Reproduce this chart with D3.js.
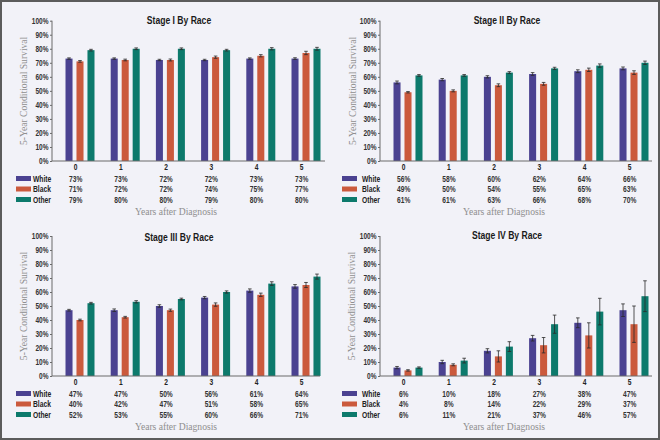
<!DOCTYPE html>
<html>
<head>
<meta charset="utf-8">
<script src="https://cdn.jsdelivr.net/npm/d3@7"></script>
<style>
  html, body { margin: 0; padding: 0; background: #f2f2f8; }
  svg { display: block; }
  .cond { font-family: "Liberation Sans", Arial, sans-serif; font-weight: bold; }
  .serif { font-family: "Liberation Serif", "DejaVu Serif", serif; }
</style>
</head>
<body>
<svg id="chart" width="660" height="440"></svg>
<script>
// ---- Data ----
const years = [0, 1, 2, 3, 4, 5];
const races = ["White", "Black", "Other"];
const yTicks = [0, 10, 20, 30, 40, 50, 60, 70, 80, 90, 100];
const stageTitles = ["Stage I By Race", "Stage II By Race", "Stage III By Race", "Stage IV By Race"];

const stageIWhite = [73, 73, 72, 72, 73, 73];
const stageIBlack = [71, 72, 72, 74, 75, 77];
const stageIOther = [79, 80, 80, 79, 80, 80];
const stageIWhiteErr = [0.5, 0.5, 0.5, 0.5, 0.5, 0.6];
const stageIBlackErr = [0.6, 0.6, 0.7, 0.8, 0.8, 1.2];
const stageIOtherErr = [0.6, 0.6, 0.6, 0.6, 0.8, 1.0];

const stageIIWhite = [56, 58, 60, 62, 64, 66];
const stageIIBlack = [49, 50, 54, 55, 65, 63];
const stageIIOther = [61, 61, 63, 66, 68, 70];
const stageIIWhiteErr = [1.0, 0.8, 0.8, 1.0, 1.0, 1.0];
const stageIIBlackErr = [0.5, 0.7, 1.0, 1.0, 1.2, 1.3];
const stageIIOtherErr = [0.6, 0.6, 0.7, 0.8, 1.2, 1.2];

const stageIIIWhite = [47, 47, 50, 56, 61, 64];
const stageIIIBlack = [40, 42, 47, 51, 58, 65];
const stageIIIOther = [52, 53, 55, 60, 66, 71];
const stageIIIWhiteErr = [0.6, 0.9, 0.9, 0.8, 1.2, 1.3];
const stageIIIBlackErr = [0.6, 0.6, 0.8, 1.2, 1.2, 1.8];
const stageIIIOtherErr = [0.6, 0.8, 0.6, 0.8, 1.3, 1.8];

const stageIVWhite = [6, 10, 18, 27, 38, 47];
const stageIVBlack = [4, 8, 14, 22, 29, 37];
const stageIVOther = [6, 11, 21, 37, 46, 57];
const stageIVWhiteErr = [0.8, 1.2, 1.5, 2.0, 3.5, 4.5];
const stageIVBlackErr = [0.5, 0.7, 4.0, 5.5, 9.0, 13.0];
const stageIVOtherErr = [0.5, 1.7, 3.5, 6.5, 9.5, 11.0];

const colors = { White: "#4b4291", Black: "#cb5a3d", Other: "#0d7a6c" };

// ---- Panels ----
const panelData = [
  { values: [stageIWhite, stageIBlack, stageIOther], errs: [stageIWhiteErr, stageIBlackErr, stageIOtherErr] },
  { values: [stageIIWhite, stageIIBlack, stageIIOther], errs: [stageIIWhiteErr, stageIIBlackErr, stageIIOtherErr] },
  { values: [stageIIIWhite, stageIIIBlack, stageIIIOther], errs: [stageIIIWhiteErr, stageIIIBlackErr, stageIIIOtherErr] },
  { values: [stageIVWhite, stageIVBlack, stageIVOther], errs: [stageIVWhiteErr, stageIVBlackErr, stageIVOtherErr] }
];

const layouts = [
  { ox: 0,   oy: 0,   axisX: 52, xEnd: 325, top: 20.7, bottom: 161, c0: 80, c5: 306, titleX: 179, titleY: 24, swX: 16, lblX: 33, yLabX: 27 },
  { ox: 330, oy: 0,   axisX: 50, xEnd: 322, top: 20.7, bottom: 161, c0: 78, c5: 304, titleX: 177, titleY: 23.5, swX: 12, lblX: 32, yLabX: 26 },
  { ox: 0,   oy: 220, axisX: 52, xEnd: 320, top: 16,   bottom: 156, c0: 80, c5: 306, titleX: 179, titleY: 20.5, swX: 16, lblX: 33, yLabX: 27 },
  { ox: 330, oy: 220, axisX: 50, xEnd: 322, top: 16,   bottom: 156, c0: 78, c5: 304, titleX: 177, titleY: 18.5, swX: 12, lblX: 32, yLabX: 25 }
];

const SX = 0.74; // horizontal condensing of the bold labels

function condText(parent, x, y, txt, size, anchor, fill) {
  return parent.append("text").attr("class", "cond")
    .attr("transform", `translate(${x},${y}) scale(${SX},1)`)
    .attr("text-anchor", anchor || "start")
    .attr("font-size", size).attr("fill", fill || "#222")
    .text(txt);
}

const svg = d3.select("#chart");
svg.append("rect").attr("x", 1).attr("y", 1).attr("width", 658).attr("height", 438)
  .attr("fill", "#f2f2f8").attr("stroke", "#5c5c5c").attr("stroke-width", 2);

layouts.forEach((L, pi) => {
  const D = panelData[pi];
  const g = svg.append("g").attr("transform", `translate(${L.ox},${L.oy})`);

  const y = d3.scaleLinear().domain([0, 100]).range([L.bottom, L.top]);
  const x = d3.scalePoint().domain(years).range([L.c0, L.c5]);
  const xr = d3.scaleBand().domain(races).range([-14.5, 14.5]).paddingInner(0.36).paddingOuter(0);
  const labelShift = -4.3;

  // title
  condText(g, L.titleX, L.titleY, stageTitles[pi], 11.6, "middle", "#1a1a1a");

  // y axis
  const yAxis = d3.axisLeft(y).tickValues(yTicks).tickSize(2).tickPadding(1.5)
    .tickFormat(d => d + "%");
  const ya = g.append("g").attr("transform", `translate(${L.axisX},0)`).call(yAxis);
  ya.select(".domain").attr("stroke", "#6a6a6a").attr("stroke-width", 1).attr("d", `M0,${L.top}V${L.bottom}`);
  ya.selectAll(".tick line").attr("stroke", "#6a6a6a");
  ya.selectAll(".tick text").attr("class", "cond").attr("font-size", 8.8).attr("fill", "#333")
    .attr("x", -3.5 / SX).attr("transform", `scale(${SX},1)`);

  // y axis label
  g.append("text").attr("class", "serif")
    .attr("transform", `translate(${L.yLabX},${(L.top + L.bottom) / 2}) rotate(-90)`)
    .attr("text-anchor", "middle").attr("font-size", 9.6).attr("fill", "#8f8f8f")
    .text("5-Year Conditional Survival");

  // bars
  races.forEach((r, ri) => {
    const vals = D.values[ri], errs = D.errs[ri];
    const rows = years.map((yr, i) => ({ yr, v: vals[i], e: errs[i] }));
    g.append("g").selectAll("rect").data(rows).join("rect")
      .attr("x", d => x(d.yr) + xr(r))
      .attr("width", xr.bandwidth())
      .attr("y", d => y(d.v))
      .attr("height", d => y(0) - y(d.v))
      .attr("fill", colors[r]);
    const eg = g.append("g").attr("stroke", "#2a2a2a").attr("stroke-width", 0.8);
    rows.forEach(d => {
      const cx = x(d.yr) + xr(r) + xr.bandwidth() / 2;
      eg.append("line").attr("x1", cx).attr("x2", cx).attr("y1", y(d.v + d.e)).attr("y2", y(d.v - d.e));
      eg.append("line").attr("x1", cx - 1.8).attr("x2", cx + 1.8).attr("y1", y(d.v + d.e)).attr("y2", y(d.v + d.e));
      eg.append("line").attr("x1", cx - 1.8).attr("x2", cx + 1.8).attr("y1", y(d.v - d.e)).attr("y2", y(d.v - d.e));
    });
  });

  // x axis line
  g.append("line").attr("x1", L.axisX).attr("x2", L.xEnd).attr("y1", L.bottom).attr("y2", L.bottom)
    .attr("stroke", "#6a6a6a").attr("stroke-width", 1);

  // category labels
  years.forEach(d => condText(g, x(d) + labelShift, L.bottom + 8.5, d, 9, "middle", "#222"));

  // table rows
  const rowY = [L.bottom + 20.5, L.bottom + 31, L.bottom + 41.5];
  races.forEach((r, ri) => {
    g.append("rect").attr("x", L.swX).attr("y", rowY[ri] - 5.5).attr("width", 15).attr("height", 5)
      .attr("fill", colors[r]);
    condText(g, L.lblX, rowY[ri], r, 9.1, "start", "#222");
    years.forEach((d, i) => condText(g, x(d) + labelShift, rowY[ri], D.values[ri][i] + "%", 9, "middle", "#333"));
  });

  // x axis title
  g.append("text").attr("class", "serif").attr("x", (L.c0 + L.c5) / 2 - 17).attr("y", L.bottom + 54)
    .attr("text-anchor", "middle").attr("font-size", 9.6).attr("fill", "#8f8f8f")
    .text("Years after Diagnosis");
});
</script>
</body>
</html>
